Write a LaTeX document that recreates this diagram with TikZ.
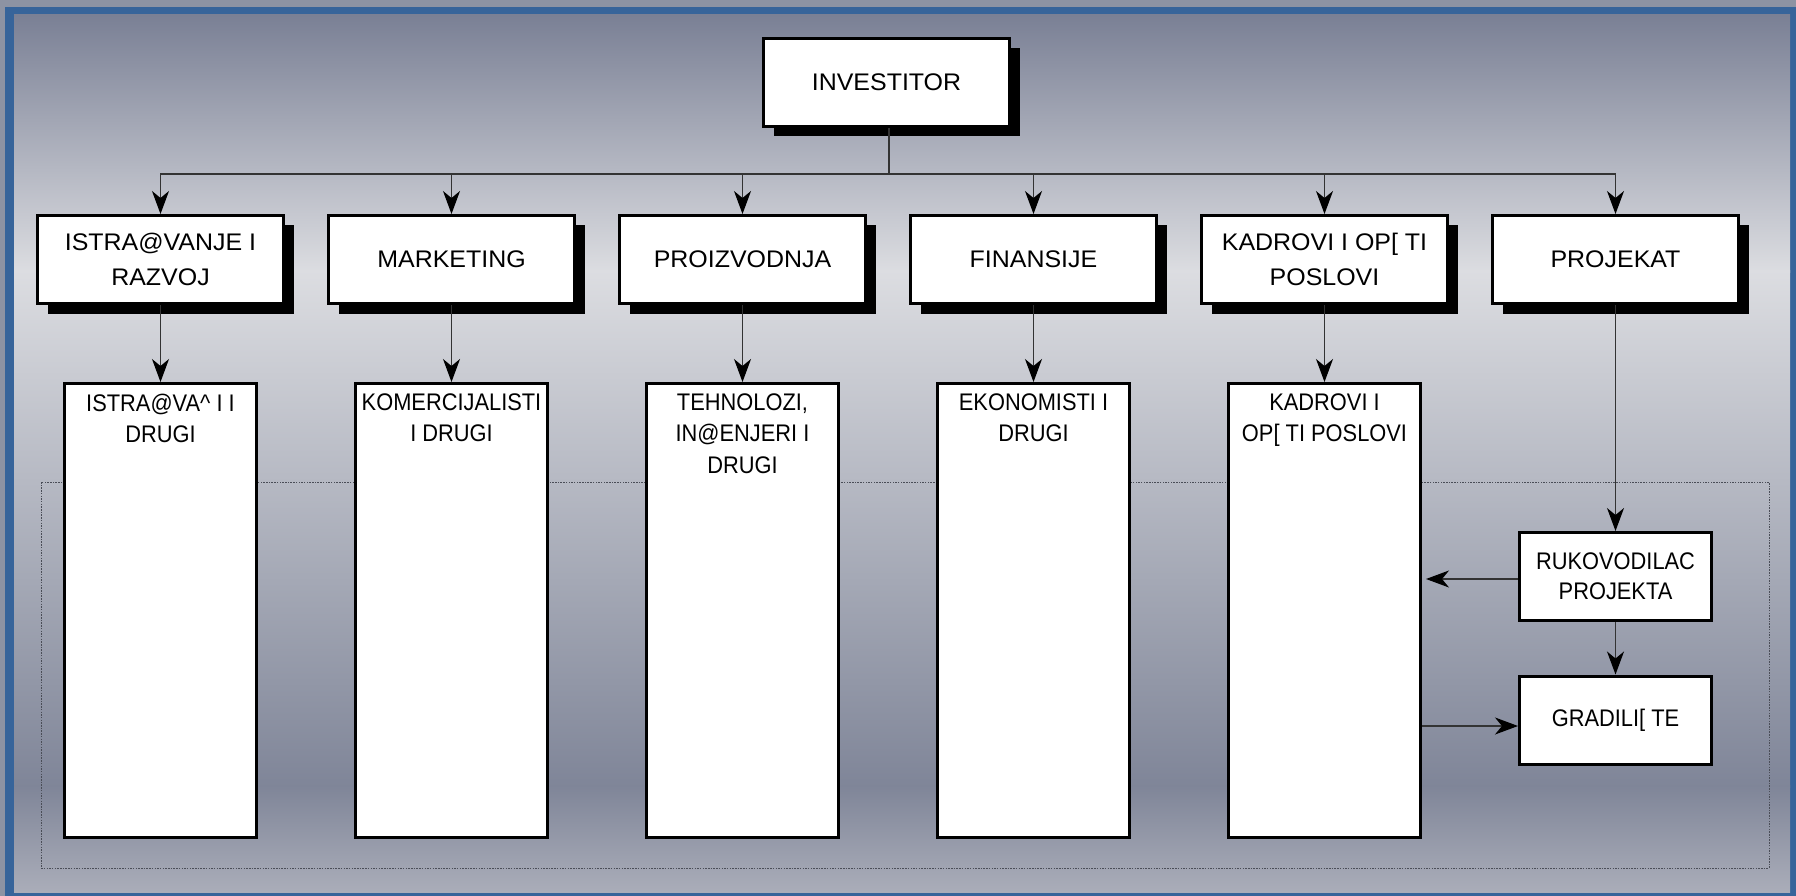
\documentclass[tikz,border=0pt]{standalone}
\usepackage{fontspec}
\setmainfont{Liberation Sans}
\newfontfamily\wideF[FakeStretch=1.04]{Liberation Sans}
\newfontfamily\narrowF[FakeStretch=0.91]{Liberation Sans}
\usetikzlibrary{arrows.meta,shadows}
\definecolor{outergray}{HTML}{8D93A3}
\definecolor{framblue}{HTML}{37649A}
\definecolor{bgA}{HTML}{7A8095}
\definecolor{bgB}{HTML}{DCDDE1}
\definecolor{bgC}{HTML}{7F8598}
\definecolor{bgD}{HTML}{AAADB9}
\definecolor{dotgray}{HTML}{4A4D57}
\tikzset{
  mainbox/.style={draw=black, line width=3pt, fill=white, minimum width=246pt, minimum height=88pt,
    inner sep=2pt, align=center, font=\wideF\fontsize{24}{35.5}\selectfont,
    drop shadow={shadow xshift=10pt, shadow yshift=-10pt, opacity=1, fill=black}},
  tallbox/.style={draw=black, line width=3pt, fill=white, minimum width=192pt, minimum height=454pt},
  talltext/.style={anchor=north, align=center, inner sep=0pt, yshift=-11.5pt,
    font=\narrowF\fontsize{24}{31.5}\selectfont},
  smallbox/.style={draw=black, line width=3pt, fill=white, minimum width=192pt, minimum height=88pt,
    inner sep=2pt, align=center, font=\narrowF\fontsize{24}{30}\selectfont},
  conn/.style={line width=1.2pt, draw=black!80},
  arr/.style={conn, -{Stealth[length=23pt, width=17pt, inset=7pt, color=black]}},
  dotframe/.style={draw=dotgray, line width=0.9pt, dash pattern=on 1.5pt off 1.2pt},
}
\begin{document}
\begin{tikzpicture}[x=1pt, y=-1pt]
\useasboundingbox (0,0) rectangle (1796,896);
% background and frame
\fill[outergray] (0,0) rectangle (1796,896);
\fill[framblue] (5,7) rectangle (1796,896);
\shade[top color=bgA, bottom color=bgB] (14,15) rectangle (1790,272);
\shade[top color=bgB, bottom color=bgC] (14,270) rectangle (1790,787);
\shade[top color=bgC, bottom color=bgD] (14,785) rectangle (1790,892);
% dotted group frame
\draw[dotframe] (41,482) rectangle (1769,868);
% nodes
\node[mainbox] (inv) at (886.5,82.5) {INVESTITOR};
\node[mainbox] (b1) at (160.5,259.5) {ISTRA@VANJE I\\RAZVOJ};
\node[mainbox] (b2) at (451.5,259.5) {MARKETING};
\node[mainbox] (b3) at (742.5,259.5) {PROIZVODNJA};
\node[mainbox] (b4) at (1033.5,259.5) {FINANSIJE};
\node[mainbox] (b5) at (1324.5,259.5) {KADROVI I OP[ TI\\POSLOVI};
\node[mainbox] (b6) at (1615.5,259.5) {PROJEKAT};
\node[tallbox] (t1) at (160.5,610.5) {};
\node[tallbox] (t2) at (451.5,610.5) {};
\node[tallbox] (t3) at (742.5,610.5) {};
\node[tallbox] (t4) at (1033.5,610.5) {};
\node[tallbox] (t5) at (1324.5,610.5) {};
\node[talltext] (t1x) at (t1.north) {ISTRA@VA\textasciicircum{} I I\\DRUGI};
\node[talltext] (t2x) at (t2.north) {KOMERCIJALISTI\\I DRUGI};
\node[talltext] (t3x) at (t3.north) {TEHNOLOZI,\\IN@ENJERI I\\DRUGI};
\node[talltext] (t4x) at (t4.north) {EKONOMISTI I\\DRUGI};
\node[talltext] (t5x) at (t5.north) {KADROVI I\\OP[ TI POSLOVI};
\node[smallbox] (ruk) at (1615.5,576.5) {RUKOVODILAC\\PROJEKTA};
\node[smallbox] (gra) at (1615.5,720) {GRADILI[ TE};
% connectors
\coordinate (bus) at (889,174);
\draw[conn] (inv.south -| bus) -- (bus);
\foreach \b in {b1,b2,b3,b4,b5,b6}{
  \draw[arr] (bus) -| (\b.north);
}
\draw[arr] (b1.south) -- (t1.north);
\draw[arr] (b2.south) -- (t2.north);
\draw[arr] (b3.south) -- (t3.north);
\draw[arr] (b4.south) -- (t4.north);
\draw[arr] (b5.south) -- (t5.north);
\draw[arr] (b6.south) -- (ruk.north);
\draw[arr] (ruk.south) -- (gra.north);
\draw[arr, shorten >=4pt] ([yshift=-2.5pt]ruk.west) -- ([yshift=-2.5pt]ruk.west -| t5.east);
\draw[arr] ([yshift=-6pt]gra.west -| t5.east) -- ([yshift=-6pt]gra.west);
\end{tikzpicture}
\end{document}
